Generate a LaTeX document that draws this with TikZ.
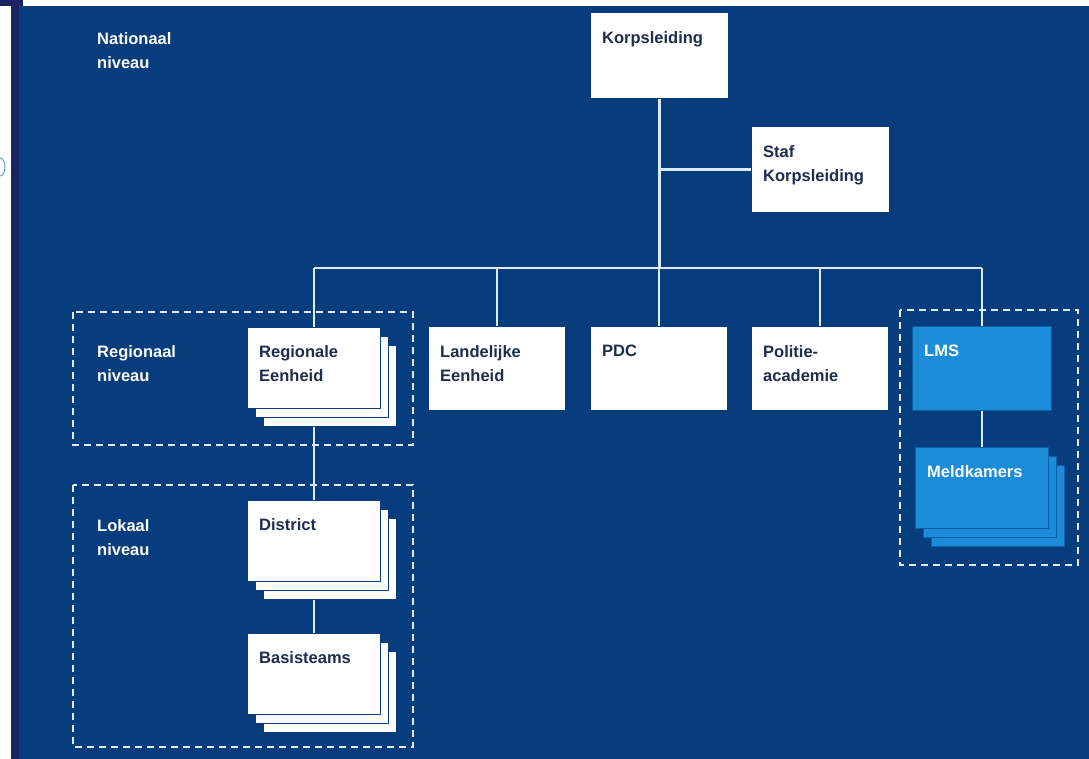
\documentclass[tikz,border=0pt]{standalone}
\usepackage{fontspec}
\setmainfont{Liberation Sans}
\usetikzlibrary{shadows,backgrounds}

\definecolor{polblue}{HTML}{083D7D}
\definecolor{edgenavy}{HTML}{1B2463}
\definecolor{ink}{HTML}{1E2D4D}
\definecolor{lmsblue}{HTML}{1C8CD8}
\definecolor{lmsedge}{HTML}{0B5FA6}
\definecolor{wire}{HTML}{DDEAF7}

\tikzset{
  orgbox/.style={draw=polblue, line width=1pt, fill=white, anchor=north west,
    inner sep=0pt, minimum width=137pt, minimum height=84pt},
  stackbox/.style={orgbox, minimum width=133pt, minimum height=81pt,
    double copy shadow={shadow xshift=8pt, shadow yshift=-9pt}},
  lmsbox/.style={orgbox, fill=lmsblue, draw=lmsedge},
  boxtext/.style={anchor=north west, align=left, inner sep=0pt, text=ink,
    font=\bfseries\fontsize{16.5}{24.5}\selectfont},
  leveltext/.style={boxtext, text=white},
  zone/.style={draw=wire, line width=2.8pt, dash pattern=on 7pt off 5pt},
  link/.style={draw=wire, line width=2.5pt}
}

\begin{document}
\begin{tikzpicture}[x=1pt,y=-1pt]
\useasboundingbox (0,0) rectangle (1089,759);

% page edge and background
\begin{scope}[on background layer]
  \fill[white] (0,0) rectangle (1089,759);
  \fill[polblue] (19,6) rectangle (1089,759);
  \fill[edgenavy] (11,0) rectangle (19,759);
  \fill[edgenavy] (0,0) rectangle (23,6);
  \draw[lmsedge!60, line width=1pt] (0,158) arc (90:-90:5pt and 9pt);
\end{scope}

% levels
\node[leveltext] (natlvl) at (97,32) {Nationaal\\niveau};
\node[leveltext] (reglvl) at (97,345) {Regionaal\\niveau};
\node[leveltext] (loklvl) at (97,519) {Lokaal\\niveau};

\draw[zone] (73,312) rectangle (413,445);
\draw[zone] (73,485) rectangle (413,747);
\draw[zone] (900,310) rectangle (1078,565);

% national
\node[orgbox, minimum width=138pt, minimum height=86pt] (korps) at (590,12) {};
\node[orgbox, minimum width=138pt, minimum height=86pt] (staf) at (751,126) {};

% units
\node[stackbox] (reg) at (247,327) {};
\node[orgbox] (land) at (428,326) {};
\node[orgbox] (pdc) at (590,326) {};
\node[orgbox] (pol) at (751,326) {};
\node[lmsbox, minimum width=139pt] (lms) at (912,326) {};

% local
\node[stackbox] (district) at (247,500) {};
\node[stackbox] (basis) at (247,633) {};
\node[stackbox, fill=lmsblue, draw=lmsedge] (meld) at (915,447) {};

% texts
\node[boxtext] (korpst) at ([shift={(12,19)}]korps.north west) {Korpsleiding};
\node[boxtext] (staft) at ([shift={(12,19)}]staf.north west) {Staf\\Korpsleiding};
\node[boxtext] (regt) at ([shift={(12,18)}]reg.north west) {Regionale\\Eenheid};
\node[boxtext] (landt) at ([shift={(12,19)}]land.north west) {Landelijke\\Eenheid};
\node[boxtext] (pdct) at ([shift={(12,19)}]pdc.north west) {PDC};
\node[boxtext] (polt) at ([shift={(12,19)}]pol.north west) {Politie-\\academie};
\node[leveltext] (lmst) at ([shift={(12,19)}]lms.north west) {LMS};
\node[boxtext] (distt) at ([shift={(12,18)}]district.north west) {District};
\node[boxtext] (basist) at ([shift={(12,18)}]basis.north west) {Basisteams};
\node[leveltext] (meldt) at ([shift={(12,18)}]meld.north west) {Meldkamers};

% connectors
\coordinate (bus) at (0,268);
\begin{scope}[on background layer]
  \draw[link] (korps.south) -- (korps.south |- bus);
  \draw[link] (staf.west) -- (staf.west -| korps.south);
  \draw[link] (reg.north |- bus) -- (lms.north |- bus);
  \foreach \unit in {reg,land,pdc,pol,lms}
    \draw[link] (\unit.north |- bus) -- (\unit.north);
  \draw[link] (reg.south) -- (district.north);
  \draw[link] (district.south) -- (basis.north);
  \draw[link] (lms.south) -- (meld.north);
\end{scope}

\end{tikzpicture}
\end{document}
